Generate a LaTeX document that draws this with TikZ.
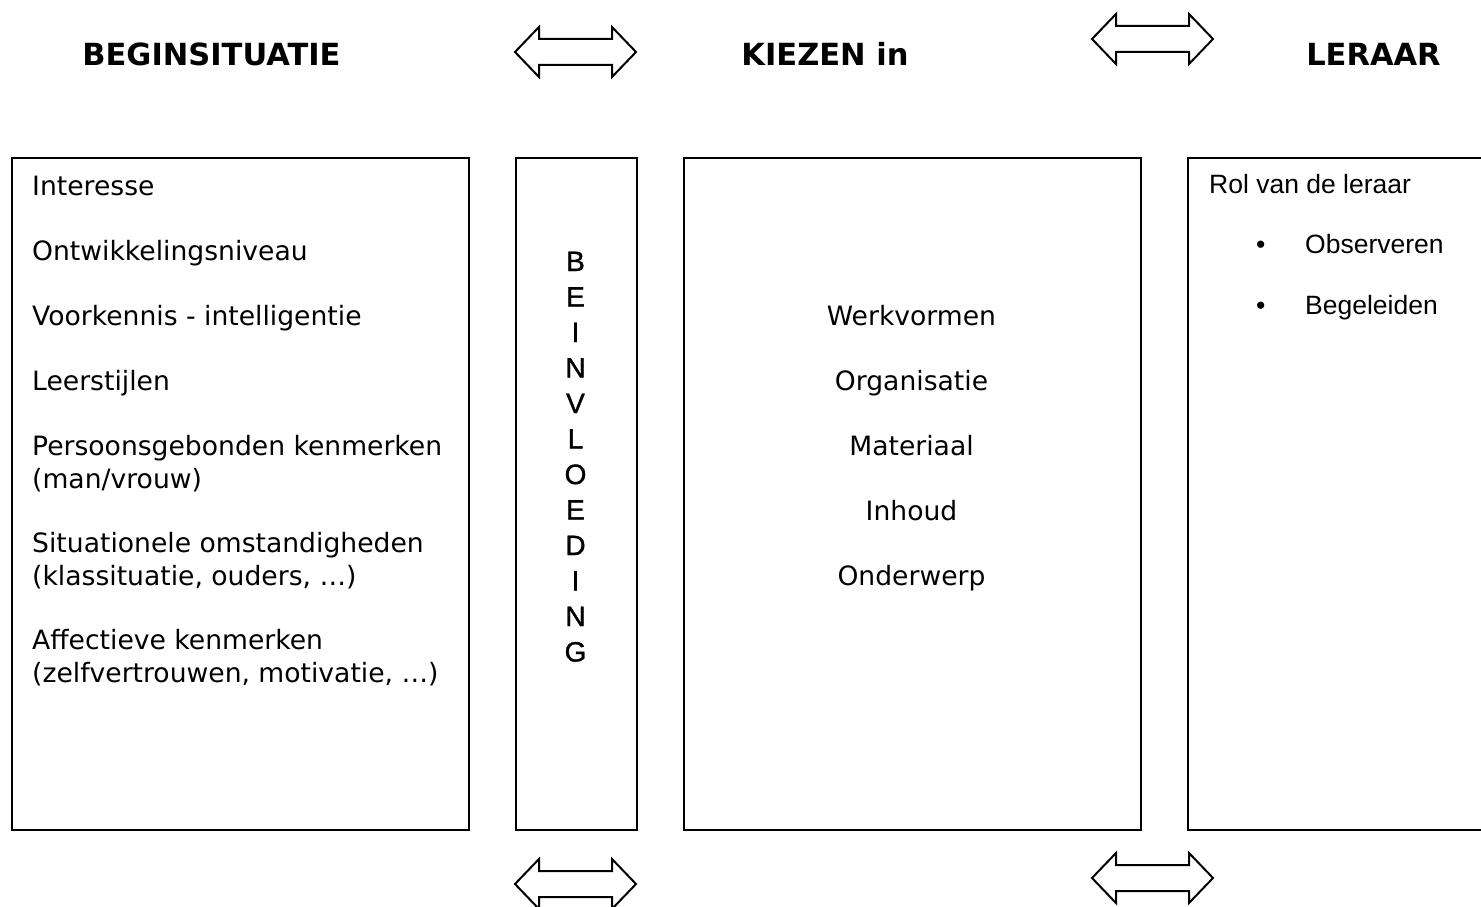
\documentclass[tikz,border=0pt]{standalone}
\usepackage{fontspec}
\setmainfont{DejaVu Sans}
\newfontfamily\arialf{Liberation Sans}
\newfontfamily\arialbf[FakeBold=1.2]{Liberation Sans}
\newfontfamily\headf{DejaVu Sans Bold}
\begin{document}
\begin{tikzpicture}[x=1pt,y=-1pt,
  box/.style={draw, line width=1.8pt, inner sep=0pt, anchor=north west},
  body/.style={inner sep=0pt, font=\fontsize{26.6}{33}\selectfont},
  lefttxt/.style={body, anchor=base west, align=left},
  midtxt/.style={body, anchor=base},
  rtxt/.style={inner sep=0pt, anchor=base west, font=\arialf\fontsize{26.5}{31}\selectfont},
  vtxt/.style={inner sep=0pt, anchor=base, font=\arialbf\fontsize{28}{33}\selectfont},
  head/.style={inner sep=0pt, anchor=base, font=\headf\fontsize{30.5}{34}\selectfont},
  dblarrow/.pic={\draw[line width=2pt, line join=miter]
     (-60.5,0) -- (-36.5,-25) -- (-36.5,-13) -- (36.5,-13) -- (36.5,-25) -- (60.5,0)
     -- (36.5,25) -- (36.5,13) -- (-36.5,13) -- (-36.5,25) -- cycle;}]
\useasboundingbox (0,0) rectangle (1481,907);
\fill[white] (0,0) rectangle (1481,907);

% headers
\node[head] (h1) at (211.5,66) {BEGINSITUATIE};
\node[head] (h2) at (825,66) {KIEZEN in};
\node[head] (h3) at (1373.5,66) {LERAAR};

% arrows
\pic at (575.5,52) {dblarrow};
\pic at (1152.5,39) {dblarrow};
\pic at (575.5,884) {dblarrow};
\pic at (1152.5,878) {dblarrow};

% boxes
\node[box, minimum width=457pt, minimum height=672pt] (links) at (11,157) {};
\node[box, minimum width=121pt, minimum height=672pt] (beinv) at (515,157) {};
\node[box, minimum width=457pt, minimum height=672pt] (kiezen) at (683,157) {};
\node[box, minimum width=320pt, minimum height=672pt] (leraar) at (1187,157) {};

% left box text
\node[lefttxt] (l1) at (32,195) {Interesse};
\node[lefttxt] (l2) at (32,260) {Ontwikkelingsniveau};
\node[lefttxt] (l3) at (32,325) {Voorkennis - intelligentie};
\node[lefttxt] (l4) at (32,390) {Leerstijlen};
\node[lefttxt] (l5) at (32,455) {Persoonsgebonden kenmerken};
\node[lefttxt] (l5b) at (32,488) {(man/vrouw)};
\node[lefttxt] (l6) at (32,552) {Situationele omstandigheden};
\node[lefttxt] (l6b) at (32,585) {(klassituatie, ouders, …)};
\node[lefttxt] (l7) at (32,649) {Affectieve kenmerken};
\node[lefttxt] (l7b) at (32,682) {(zelfvertrouwen, motivatie, …)};

% vertical word
\foreach \ch [count=\i from 0] in {B,E,I,N,V,L,O,E,D,I,N,G}
  \node[vtxt] (v\i) at (575.5,{271+35.5*\i}) {\ch};

% middle text
\node[midtxt] (m1) at (911.5,325) {Werkvormen};
\node[midtxt] (m2) at (911.5,390) {Organisatie};
\node[midtxt] (m3) at (911.5,455) {Materiaal};
\node[midtxt] (m4) at (911.5,520) {Inhoud};
\node[midtxt] (m5) at (911.5,585) {Onderwerp};

% right box text
\node[rtxt] (r0) at (1209,193) {Rol van de leraar};
\node[rtxt] (r1) at (1305,253) {Observeren};
\node[rtxt] (r2) at (1305,314) {Begeleiden};
\node[rtxt] (b1) at (1256,253) {•};
\node[rtxt] (b2) at (1256,314) {•};
\end{tikzpicture}
\end{document}
